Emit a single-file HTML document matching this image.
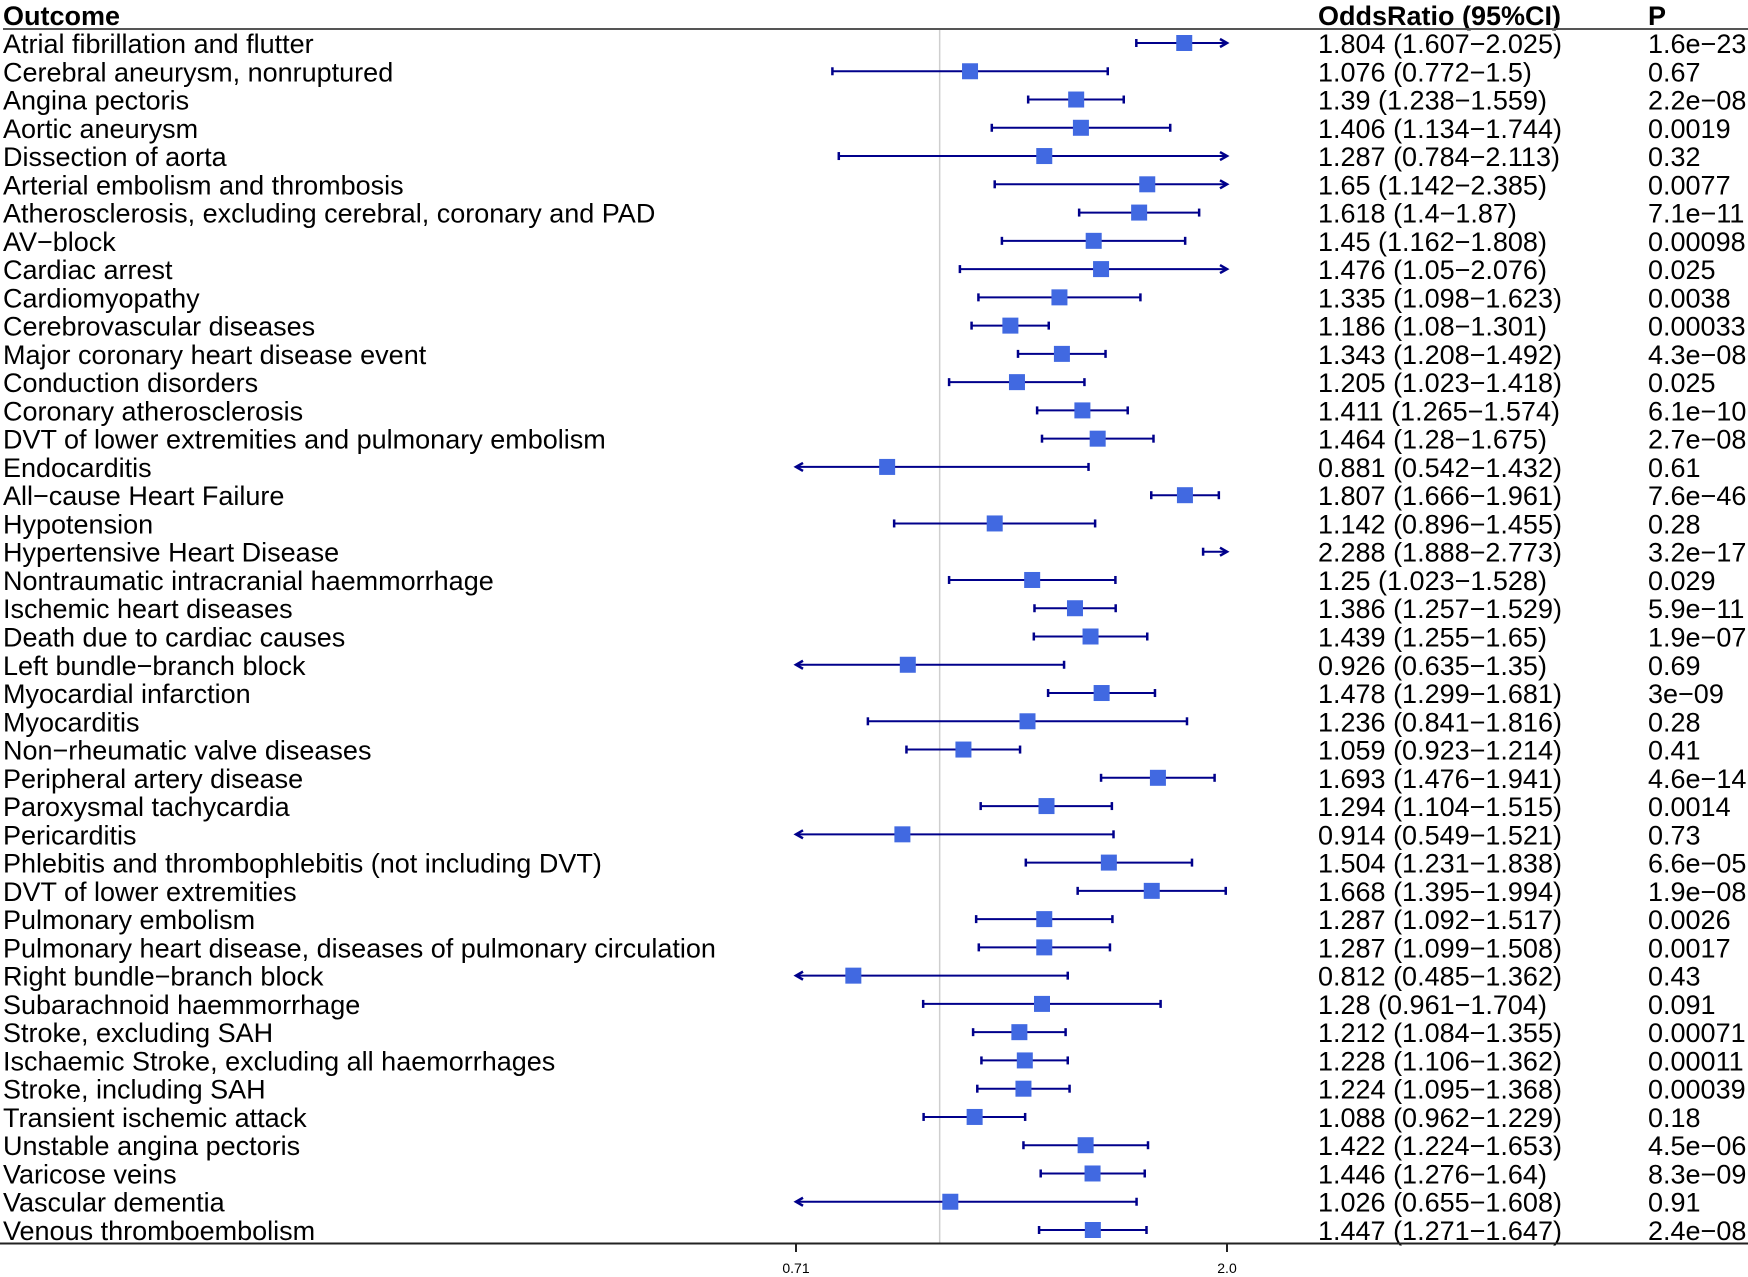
<!DOCTYPE html>
<html><head><meta charset="utf-8"><style>
html,body{margin:0;padding:0;background:#fff;}
svg{display:block;}
text{font-family:"Liberation Sans",Arial,sans-serif;}
</style></head><body>
<svg id="chart" width="1748" height="1277" xmlns="http://www.w3.org/2000/svg"></svg>
<script>
const outcomes = ["Atrial fibrillation and flutter","Cerebral aneurysm, nonruptured","Angina pectoris","Aortic aneurysm","Dissection of aorta","Arterial embolism and thrombosis","Atherosclerosis, excluding cerebral, coronary and PAD","AV\u2212block","Cardiac arrest","Cardiomyopathy","Cerebrovascular diseases","Major coronary heart disease event","Conduction disorders","Coronary atherosclerosis","DVT of lower extremities and pulmonary embolism","Endocarditis","All\u2212cause Heart Failure","Hypotension","Hypertensive Heart Disease","Nontraumatic intracranial haemmorrhage","Ischemic heart diseases","Death due to cardiac causes","Left bundle\u2212branch block","Myocardial infarction","Myocarditis","Non\u2212rheumatic valve diseases","Peripheral artery disease","Paroxysmal tachycardia","Pericarditis","Phlebitis and thrombophlebitis (not including DVT)","DVT of lower extremities","Pulmonary embolism","Pulmonary heart disease, diseases of pulmonary circulation","Right bundle\u2212branch block","Subarachnoid haemmorrhage","Stroke, excluding SAH","Ischaemic Stroke, excluding all haemorrhages","Stroke, including SAH","Transient ischemic attack","Unstable angina pectoris","Varicose veins","Vascular dementia","Venous thromboembolism"];
const orValues = [1.804,1.076,1.39,1.406,1.287,1.65,1.618,1.45,1.476,1.335,1.186,1.343,1.205,1.411,1.464,0.881,1.807,1.142,2.288,1.25,1.386,1.439,0.926,1.478,1.236,1.059,1.693,1.294,0.914,1.504,1.668,1.287,1.287,0.812,1.28,1.212,1.228,1.224,1.088,1.422,1.446,1.026,1.447];
const lowerCI = [1.607,0.772,1.238,1.134,0.784,1.142,1.4,1.162,1.05,1.098,1.08,1.208,1.023,1.265,1.28,0.542,1.666,0.896,1.888,1.023,1.257,1.255,0.635,1.299,0.841,0.923,1.476,1.104,0.549,1.231,1.395,1.092,1.099,0.485,0.961,1.084,1.106,1.095,0.962,1.224,1.276,0.655,1.271];
const upperCI = [2.025,1.5,1.559,1.744,2.113,2.385,1.87,1.808,2.076,1.623,1.301,1.492,1.418,1.574,1.675,1.432,1.961,1.455,2.773,1.528,1.529,1.65,1.35,1.681,1.816,1.214,1.941,1.515,1.521,1.838,1.994,1.517,1.508,1.362,1.704,1.355,1.362,1.368,1.229,1.653,1.64,1.608,1.647];
const pValues = ["1.6e\u221223","0.67","2.2e\u221208","0.0019","0.32","0.0077","7.1e\u221211","0.00098","0.025","0.0038","0.00033","4.3e\u221208","0.025","6.1e\u221210","2.7e\u221208","0.61","7.6e\u221246","0.28","3.2e\u221217","0.029","5.9e\u221211","1.9e\u221207","0.69","3e\u221209","0.28","0.41","4.6e\u221214","0.0014","0.73","6.6e\u221205","1.9e\u221208","0.0026","0.0017","0.43","0.091","0.00071","0.00011","0.00039","0.18","4.5e\u221206","8.3e\u221209","0.91","2.4e\u221208"];
const orText = ["1.804","1.076","1.39","1.406","1.287","1.65","1.618","1.45","1.476","1.335","1.186","1.343","1.205","1.411","1.464","0.881","1.807","1.142","2.288","1.25","1.386","1.439","0.926","1.478","1.236","1.059","1.693","1.294","0.914","1.504","1.668","1.287","1.287","0.812","1.28","1.212","1.228","1.224","1.088","1.422","1.446","1.026","1.447"];
const loText = ["1.607","0.772","1.238","1.134","0.784","1.142","1.4","1.162","1.05","1.098","1.08","1.208","1.023","1.265","1.28","0.542","1.666","0.896","1.888","1.023","1.257","1.255","0.635","1.299","0.841","0.923","1.476","1.104","0.549","1.231","1.395","1.092","1.099","0.485","0.961","1.084","1.106","1.095","0.962","1.224","1.276","0.655","1.271"];
const hiText = ["2.025","1.5","1.559","1.744","2.113","2.385","1.87","1.808","2.076","1.623","1.301","1.492","1.418","1.574","1.675","1.432","1.961","1.455","2.773","1.528","1.529","1.65","1.35","1.681","1.816","1.214","1.941","1.515","1.521","1.838","1.994","1.517","1.508","1.362","1.704","1.355","1.362","1.368","1.229","1.653","1.64","1.608","1.647"];
const tickValues = [Math.SQRT1_2, 2];
const tickLabels = ["0.71","2.0"];

const NS = "http://www.w3.org/2000/svg";
const svg = document.getElementById('chart');
const X0 = 796, X1 = 1227, XMIN = -0.5, XMAX = 1;
function xScale(v){ return X0 + (Math.log2(v) - XMIN) / (XMAX - XMIN) * (X1 - X0); }
const ROW0 = 43, ROWH = (1230 - 43) / 42;
function yScale(i){ return ROW0 + i * ROWH; }
function el(tag, attrs, parent){ const e = document.createElementNS(NS, tag); for (const k in attrs) e.setAttribute(k, attrs[k]); (parent||svg).appendChild(e); return e; }
function txt(x, y, s, size, weight, parent){ const t = el('text', {x:x, y:y, 'font-size':size, 'font-weight':weight||'normal', fill:'#000'}, parent); t.textContent = s; return t; }
const FS = 27, COL_OR = 1318, COL_P = 1648;

const ref = el('line', {x1:xScale(1), x2:xScale(1), y1:30, y2:1243, stroke:'#cfcfcf', 'stroke-width':1.5});



const h1 = txt(3, 25, 'Outcome', FS, 'bold');


const h2 = txt(COL_OR, 25, 'OddsRatio (95%CI)', FS, 'bold');


const h3 = txt(COL_P, 25, 'P', FS, 'bold');


const hl = el('line', {x1:3, x2:1748, y1:29, y2:29, stroke:'#555', 'stroke-width':2});



const dark = '#00008B';
for (let i = 0; i < outcomes.length; i++){
  const y = yScale(i);
  const g = el('g', {});
  
  
  const t1 = txt(3, y + 10, outcomes[i], FS, 'normal', g);
  
  
  const t2 = txt(COL_OR, y + 10, orText[i] + ' (' + loText[i] + '\u2212' + hiText[i] + ')', FS, 'normal', g);
  
  
  const t3 = txt(COL_P, y + 10, pValues[i], FS, 'normal', g);
  
  

  const lo = lowerCI[i], hi = upperCI[i];
  const clipL = lo < Math.SQRT1_2, clipR = hi > 2;
  const xl = xScale(clipL ? Math.SQRT1_2 : lo), xr = xScale(clipR ? 2 : hi);
  const ci = el('line', {x1:xl, x2:xr, y1:y, y2:y, stroke:dark, 'stroke-width':2}, g);
  
  
  if (clipL){
    const a = el('polyline', {points:(xl+7)+','+(y-4)+' '+xl+','+y+' '+(xl+7)+','+(y+4), fill:'none', stroke:dark, 'stroke-width':2.5}, g);
    
    
  } else {
    const c = el('line', {x1:xl, x2:xl, y1:y-4, y2:y+4, stroke:dark, 'stroke-width':2.5}, g);
    
    
  }
  if (clipR){
    const a = el('polyline', {points:(xr-7)+','+(y-4)+' '+xr+','+y+' '+(xr-7)+','+(y+4), fill:'none', stroke:dark, 'stroke-width':2.5}, g);
    
    
  } else {
    const c = el('line', {x1:xr, x2:xr, y1:y-4, y2:y+4, stroke:dark, 'stroke-width':2.5}, g);
    
    
  }
  const v = orValues[i];
  if (v >= Math.SQRT1_2 && v <= 2){
    const sq = el('rect', {x:xScale(v)-8, y:y-8, width:16, height:16, fill:'#4169E1'}, g);
    
    
  }
}

const ax = el('line', {x1:0, x2:1748, y1:1243.5, y2:1243.5, stroke:'#222', 'stroke-width':2});


for (let k = 0; k < tickValues.length; k++){
  const x = xScale(tickValues[k]);
  const tk = el('line', {x1:x, x2:x, y1:1243, y2:1252, stroke:'#222', 'stroke-width':2});
  
  
  const tl = txt(x, 1273, tickLabels[k], 14, 'normal');
  tl.setAttribute('text-anchor', 'middle');
  
  
}
</script>
</body></html>
